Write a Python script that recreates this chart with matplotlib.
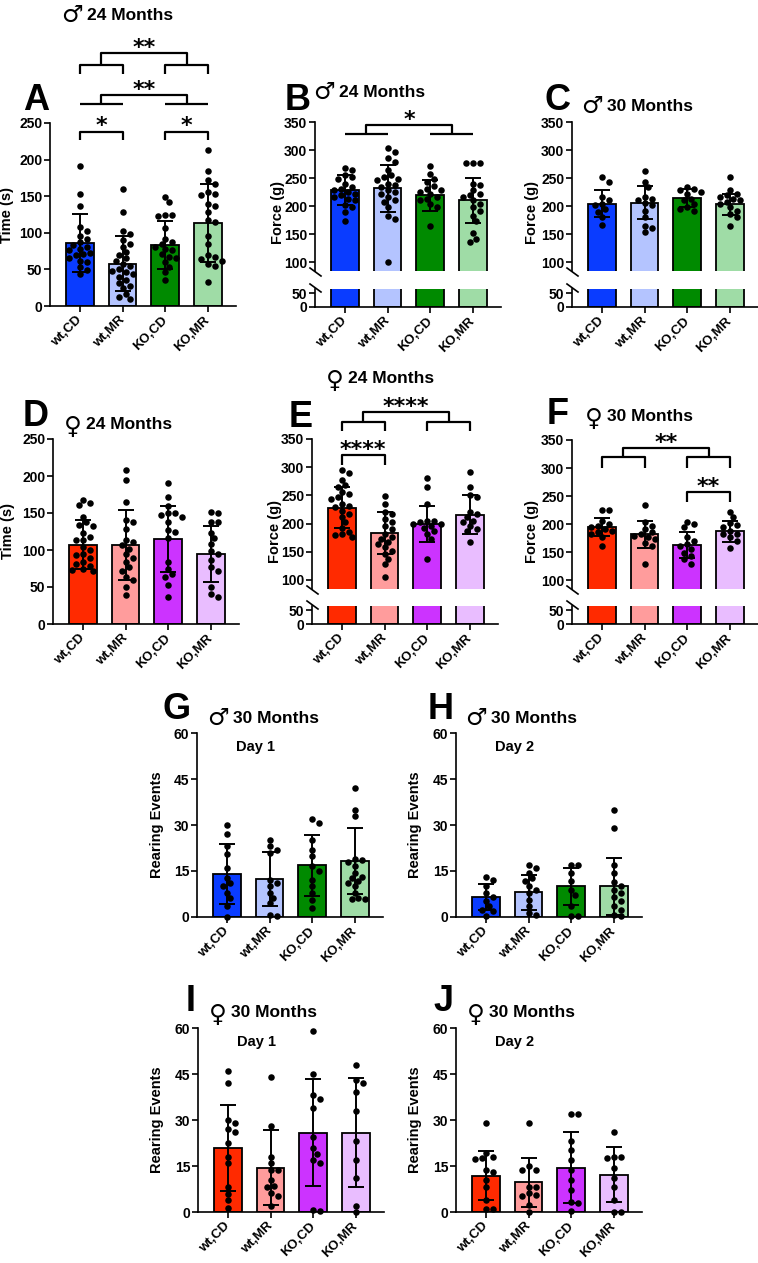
import numpy as np
import matplotlib
matplotlib.use('Agg')
import matplotlib.pyplot as plt
from matplotlib.lines import Line2D

# ---------------- data ----------------
GROUPS = ['wt,CD', 'wt,MR', 'KO,CD', 'KO,MR']
MALE_COLORS = ['#0a3cff', '#b4c4ff', '#008a00', '#9fdca6']
FEMALE_COLORS = ['#ff2a00', '#ff9c9c', '#cc33ff', '#e9bdff']

A_MEANS = [86.5, 58, 83, 113]
A_SDS = [39.5, 38, 33, 53]
A_PTS = [
    [191, 153, 137, 108, 103, 96, 91, 87, 84, 81, 78, 76, 73, 71, 69, 65, 62, 60, 53, 49, 44],
    [160, 128, 102, 99, 90, 85, 81, 74, 69, 65, 61, 58, 54, 51, 48, 46, 44, 40, 35, 31, 28, 24, 17, 12, 10],
    [149, 142, 125, 124, 123, 107, 92, 87, 85, 81, 78, 76, 71, 67, 65, 60, 53, 46, 35],
    [213, 184, 172, 167, 156, 153, 151, 140, 137, 128, 117, 115, 96, 85, 69, 67, 64, 62, 57, 55, 33],
]

B_MEANS = [228, 232, 219, 210]
B_SDS = [27, 42, 27, 40]
B_PTS = [
    [267, 264, 255, 252, 249, 240, 234, 231, 228, 225, 222, 219, 216, 213, 210, 201, 198, 189, 174],
    [304, 296, 286, 279, 264, 255, 252, 249, 246, 240, 237, 234, 229, 225, 222, 216, 210, 207, 198, 183, 177, 100],
    [271, 258, 249, 243, 235, 231, 228, 225, 222, 216, 213, 210, 204, 198, 165],
    [276, 276, 276, 240, 237, 228, 222, 219, 216, 210, 204, 198, 192, 183, 174, 151, 142, 136],
]

C_MEANS = [204, 206, 214, 203]
C_SDS = [24, 30, 16, 19]
C_PTS = [
    [251, 243, 216, 210, 204, 201, 195, 189, 180, 167],
    [262, 243, 234, 216, 213, 210, 205, 201, 192, 180, 165, 160, 154],
    [234, 231, 228, 225, 222, 213, 210, 204, 198, 195, 192],
    [251, 228, 222, 219, 216, 213, 210, 207, 203, 198, 192, 186, 180, 165],
]

D_MEANS = [107, 107, 115, 95]
D_SDS = [33, 47, 45, 38]
D_PTS = [
    [168, 163, 161, 145, 138, 134, 132, 123, 118, 114, 114, 104, 100, 95, 93, 89, 84, 81, 78, 75, 73, 71],
    [208, 195, 165, 141, 138, 129, 114, 111, 107, 102, 95, 89, 84, 77, 71, 64, 59, 50, 39],
    [191, 172, 159, 150, 150, 147, 145, 138, 127, 125, 116, 84, 75, 68, 64, 53, 37],
    [151, 150, 138, 138, 123, 116, 108, 99, 95, 86, 77, 71, 50, 41, 37],
]

E_MEANS = [228, 183, 200, 216]
E_SDS = [36, 37, 32, 34]
E_PTS = [
    [295, 289, 277, 268, 265, 256, 252, 247, 244, 235, 232, 229, 223, 217, 211, 202, 193, 185, 182, 179, 176],
    [249, 235, 220, 217, 208, 202, 196, 190, 182, 176, 173, 167, 164, 158, 152, 146, 137, 128, 105],
    [280, 265, 235, 205, 205, 202, 200, 199, 196, 193, 187, 182, 173, 137],
    [292, 265, 250, 247, 220, 217, 211, 205, 202, 196, 190, 187, 167],
]

F_MEANS = [195, 182, 163, 187]
F_SDS = [16, 24, 23, 19]
F_PTS = [
    [225, 225, 206, 200, 197, 194, 191, 188, 185, 182, 176, 161],
    [234, 203, 197, 191, 185, 182, 179, 176, 173, 167, 161, 129],
    [203, 200, 194, 176, 170, 164, 161, 155, 149, 143, 137, 129],
    [221, 212, 201, 198, 194, 188, 182, 182, 176, 170, 158],
]

G_MEANS = [14.1, 12.5, 16.8, 18.2]
G_SDS = [9.8, 8.8, 9.8, 10.8]
G_PTS = [
    [30, 27, 23, 20.5, 16, 12.7, 11, 10, 7.8, 6.2, 3.5, 0],
    [25, 23, 22, 21, 12, 11, 10, 7.8, 6.2, 4.5, 0.8, 0.2],
    [32, 30.5, 25, 22, 20, 16.5, 15, 12, 10, 7.8, 5.4, 3],
    [42, 35, 33, 19, 18.6, 18, 16.5, 14.3, 13.2, 12.7, 11.6, 11, 10, 7.8, 6.2, 6, 6],
]

H_MEANS = [6.5, 8, 10, 10]
H_SDS = [4.3, 5.6, 6, 9.4]
H_PTS = [
    [13, 12, 10, 7.8, 6.5, 5.1, 3.5, 2.4, 1.8, 0.2],
    [17, 16, 14.3, 12.7, 11.6, 10, 8.9, 7.8, 5.6, 3.5, 1.3, 0.8],
    [17, 17, 14.3, 11.6, 8.9, 7.3, 3.5, 0.2, 0.2],
    [35, 29, 17, 14.3, 11.3, 10, 8.9, 7.8, 6.5, 5.1, 3.5, 2.2, 0.8, 0.2],
]

I_MEANS = [21, 14.5, 25.9, 25.9]
I_SDS = [14, 12.2, 17.5, 17.7]
I_PTS = [
    [46, 42, 30, 29, 27, 26, 22.5, 18, 16, 8.3, 6, 4, 1.3],
    [44, 28, 18, 16, 13.8, 13.8, 10.5, 8.6, 8.1, 6.2, 5.1, 1.8],
    [59, 45, 38, 37, 34, 24.6, 20.8, 19, 17, 16, 0.8, 0.2],
    [48, 43, 42, 39, 33, 23, 17, 11, 2, 0],
]

J_MEANS = [11.8, 9.7, 14.5, 12.2]
J_SDS = [8, 8, 11.5, 9]
J_PTS = [
    [29, 19.2, 18, 17.5, 17.2, 13.8, 12.9, 10.5, 8.3, 4, 1, 1],
    [29, 15, 13.8, 13.8, 8.3, 8.3, 6.2, 5.6, 5.1, 2.3, 0],
    [32, 32, 23.3, 20.3, 17, 13.8, 10.5, 7.3, 3.1, 2.9, 0.2],
    [26.2, 17.9, 17.9, 17.5, 14.3, 11, 8.3, 4, 0, 0],
]

# ---------------- style ----------------
plt.rcParams['font.family'] = ['Liberation Sans', 'DejaVu Sans']
plt.rcParams['font.weight'] = 'bold'
plt.rcParams['axes.linewidth'] = 1.2

W, H = 758, 1263
fig = plt.figure(figsize=(W / 100, H / 100), dpi=100)

XLIM = (-0.7, 3.65)
PX_PER_X = 42.7
AX_W = (XLIM[1] - XLIM[0]) * PX_PER_X
BAR_W = 0.65
DOT_D = 6.3  # px


def px_axes(left, top, right, bottom):
    return fig.add_axes([left / W, 1 - bottom / H, (right - left) / W, (bottom - top) / H])


def swarm(vals, ppu_y):
    vals = np.asarray(vals, float)
    order = np.argsort(-vals)
    placed = []
    offs = np.zeros(len(vals))
    step = DOT_D * 0.55
    cands = [0.0]
    for k in range(1, 12):
        cands += [k * step, -k * step]
    for i in order:
        y = vals[i] * ppu_y
        for c in cands:
            if all((c - px) ** 2 + (y - py) ** 2 >= (DOT_D * 0.95) ** 2 for px, py in placed):
                break
        placed.append((c, y))
        offs[i] = c / PX_PER_X
    return offs


def style_ax(ax, yticks, xlabels=True):
    ax.set_xlim(*XLIM)
    ax.spines['top'].set_visible(False)
    ax.spines['right'].set_visible(False)
    ax.set_yticks(yticks)
    ax.tick_params(axis='both', direction='out', length=4, width=1.2, labelsize=10, pad=1.5)
    if xlabels:
        ax.set_xticks(range(4))
        ax.set_xticklabels(GROUPS, rotation=45, ha='right', va='center',
                           rotation_mode='anchor', fontsize=9.5, fontweight='bold')
        ax.tick_params(axis='x', pad=5)
    for lab in ax.get_yticklabels():
        lab.set_fontweight('bold')


def draw_groups(ax, means, sds, pts, colors, ppu_y, marks=True):
    x = np.arange(len(means))
    ax.bar(x, means, width=BAR_W, color=colors, edgecolor='k', linewidth=1.3, zorder=2)
    if marks:
        for i in range(len(means)):
            off = swarm(pts[i], ppu_y)
            ax.scatter(i + off, pts[i], s=22, color='k', linewidths=0, zorder=3, clip_on=False)
        ax.errorbar(x, means, yerr=sds, fmt='none', ecolor='k', elinewidth=1.4,
                    capsize=5.5, capthick=1.4, zorder=4, clip_on=False)


def simple_panel(left, top, bottom, ylim, yticks, means, sds, pts, colors):
    ax = px_axes(left, top, left + AX_W, bottom)
    ax.set_ylim(*ylim)
    ppu = (bottom - top) / (ylim[1] - ylim[0])
    draw_groups(ax, means, sds, pts, colors, ppu)
    style_ax(ax, yticks)
    return ax


def fig_line(x0, y0, x1, y1):
    fig.add_artist(Line2D([x0 / W, x1 / W], [1 - y0 / H, 1 - y1 / H],
                          transform=fig.transFigure, color='k', lw=1.2))


def broken_panel(left, top, ubottom, ltop, bottom, means, sds, pts, colors):
    up_lim = (84, 350)
    lo_lim = (0, 65)
    axu = px_axes(left, top, left + AX_W, ubottom)
    axl = px_axes(left, ltop, left + AX_W, bottom)
    axu.set_ylim(*up_lim)
    axl.set_ylim(*lo_lim)
    ppu = (ubottom - top) / (up_lim[1] - up_lim[0])
    draw_groups(axu, means, sds, pts, colors, ppu)
    draw_groups(axl, means, sds, pts, colors, ppu, marks=False)
    style_ax(axu, [100, 150, 200, 250, 300, 350], xlabels=False)
    axu.spines['bottom'].set_visible(False)
    axu.set_xticks([])
    style_ax(axl, [0, 50])
    # break marks
    fig_line(left - 5, ubottom - 3, left + 6, ubottom + 5)
    fig_line(left - 5, ltop - 5, left + 6, ltop + 3)
    return axu, axl


STAR_KW = dict(ha='center', va='baseline', fontsize=16, fontweight='bold', family='DejaVu Sans')


def stars(ax, x, y, txt):
    ax.annotate(txt, xy=(x, y), xytext=(0, -0.5), textcoords='offset points',
                annotation_clip=False, **STAR_KW)


def kw():
    return dict(color='k', lw=1.6, clip_on=False, solid_capstyle='butt')


def single_bracket(ax, x1, x2, y, ytick, txt):
    ax.plot([x1, x1, x2, x2], [ytick, y, y, ytick], **kw())
    stars(ax, (x1 + x2) / 2, y, txt)


def nested_bracket(ax, y, ysub, ytick, txt):
    ax.plot([0.5, 0.5, 2.5, 2.5], [ysub, y, y, ysub], **kw())
    for a, b in [(0, 1), (2, 3)]:
        if ytick is None:
            ax.plot([a, b], [ysub, ysub], **kw())
        else:
            ax.plot([a, a, b, b], [ytick, ysub, ysub, ytick], **kw())
    stars(ax, 1.5, y, txt)


# ---------------- panels ----------------
axA = simple_panel(50, 123, 306, (0, 250), [0, 50, 100, 150, 200, 250], A_MEANS, A_SDS, A_PTS, MALE_COLORS)
nested_bracket(axA, 345.6, 329, 317, '**')
nested_bracket(axA, 288, 276, None, '**')
single_bracket(axA, 0, 1, 238, 227, '*')
single_bracket(axA, 2, 3, 238, 227, '*')

axBu, axBl = broken_panel(315, 122, 271, 289, 307, B_MEANS, B_SDS, B_PTS, MALE_COLORS)
nested_bracket(axBu, 344.6, 328.6, None, '*')

axCu, axCl = broken_panel(572, 122, 271, 289, 307, C_MEANS, C_SDS, C_PTS, MALE_COLORS)

axD = simple_panel(53, 439, 624, (0, 250), [0, 50, 100, 150, 200, 250], D_MEANS, D_SDS, D_PTS, FEMALE_COLORS)

axEu, axEl = broken_panel(312, 439, 589, 606, 624, E_MEANS, E_SDS, E_PTS, FEMALE_COLORS)
nested_bracket(axEu, 398, 380, 364, '****')
single_bracket(axEu, 0, 1, 321, 304, '****')

axFu, axFl = broken_panel(572, 440, 589, 606, 624, F_MEANS, F_SDS, F_PTS, FEMALE_COLORS)
nested_bracket(axFu, 336, 320, 300, '**')
single_bracket(axFu, 2, 3, 257, 239, '**')

RT = [0, 15, 30, 45, 60]
axG = simple_panel(197, 733, 917, (0, 60), RT, G_MEANS, G_SDS, G_PTS, MALE_COLORS)
axH = simple_panel(456, 733, 917, (0, 60), RT, H_MEANS, H_SDS, H_PTS, MALE_COLORS)
axI = simple_panel(198, 1028, 1212, (0, 60), RT, I_MEANS, I_SDS, I_PTS, FEMALE_COLORS)
axJ = simple_panel(456, 1028, 1212, (0, 60), RT, J_MEANS, J_SDS, J_PTS, FEMALE_COLORS)

# ---------------- texts ----------------
def ftext(x, y, s, **k):
    fig.text(x / W, 1 - y / H, s, **k)


# panel letters (left, baseline)
for letter, x, y in [('A', 23, 110), ('B', 285, 110), ('C', 545, 110), ('D', 23, 426), ('E', 289, 427),
                     ('F', 547, 424), ('G', 163, 719), ('H', 428, 719), ('I', 186, 1011), ('J', 433, 1011)]:
    ftext(x, y, letter, ha='left', va='baseline', fontsize=26, fontweight='bold')

MALE = '\u2642'
FEMALE = '\u2640'
# titles: symbol right edge just left of the text, text left, baseline
for sym, label, tx, ty in [
    (MALE, '24 Months', 87, 20),
    (MALE, '24 Months', 339, 97),
    (MALE, '30 Months', 607, 111),
    (FEMALE, '24 Months', 86, 429),
    (FEMALE, '24 Months', 348, 383),
    (FEMALE, '30 Months', 607, 421),
    (MALE, '30 Months', 233, 723),
    (MALE, '30 Months', 491, 723),
    (FEMALE, '30 Months', 231, 1017),
    (FEMALE, '30 Months', 489, 1017),
]:
    dy = 2 if sym == MALE else 5
    ftext(tx - 4, ty + dy, sym, ha='right', va='baseline', fontsize=17.5, fontweight='normal',
          family='DejaVu Sans')
    ftext(tx, ty, label, ha='left', va='baseline', fontsize=12.5, fontweight='bold')

for s, x, y in [('Day 1', 236, 751), ('Day 2', 495, 751), ('Day 1', 237, 1046), ('Day 2', 495, 1046)]:
    ftext(x, y, s, ha='left', va='baseline', fontsize=10.5, fontweight='bold')

# y labels
for s, x, y in [('Time (s)', 7, 215), ('Force (g)', 278, 213), ('Force (g)', 532, 213),
                ('Time (s)', 8, 531), ('Force (g)', 275, 531), ('Force (g)', 532, 531),
                ('Rearing Events', 157, 825), ('Rearing Events', 415, 825),
                ('Rearing Events', 157, 1120), ('Rearing Events', 415, 1120)]:
    ftext(x, y, s, ha='center', va='center', rotation=90, fontsize=10.5, fontweight='bold')

fig.savefig('out.png', dpi=100)
